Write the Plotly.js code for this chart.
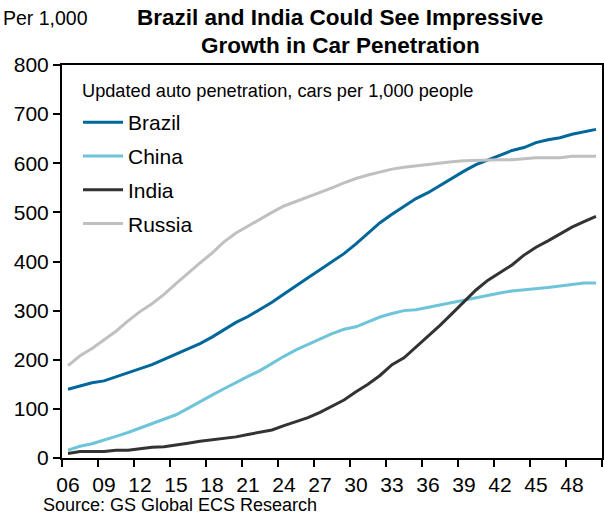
<!DOCTYPE html>
<html>
<head>
<meta charset="utf-8">
<script src="https://cdn.plot.ly/plotly-3.0.1.min.js"></script>
<style>
html,body{margin:0;padding:0;background:#fff;}
#chart{width:604px;height:516px;}
</style>
</head>
<body>
<div id="chart"></div>
<script>
// Categories: years 2006-2050 shown as two-digit labels
const years = ["06","07","08","09","10","11","12","13","14","15","16","17","18","19","20",
  "21","22","23","24","25","26","27","28","29","30","31","32","33","34","35",
  "36","37","38","39","40","41","42","43","44","45","46","47","48","49","50"];

const brazil = [140,147,153,157,165,174,182,190,201,212,223,233,246,261,276,
  288,302,317,334,351,367,383,399,416,436,458,479,496,512,528,
  540,555,570,584,597,607,617,626,632,642,648,652,659,664,669];

const china = [16,24,29,36,44,52,61,70,79,88,101,115,128,141,154,
  166,178,193,207,220,231,242,253,262,267,277,287,294,300,302,
  307,312,317,322,327,332,336,340,342,344,347,350,353,356,356];

const india = [9,13,13,13,16,16,19,22,23,26,30,34,37,40,43,
  48,53,57,66,74,82,93,106,118,135,150,168,190,204,226,
  248,270,294,317,342,362,378,393,413,429,442,456,470,481,492];

const russia = [188,208,223,240,258,279,298,314,333,355,377,397,417,440,458,
  472,487,500,513,522,531,540,550,560,569,576,582,588,592,595,
  598,601,603,605,606,607,607,607,609,611,611,611,614,614,614];

const seriesNames = ["Brazil","China","India","Russia"];
const seriesData = [brazil, china, india, russia];
const seriesColors = ["#00679A","#6EC4D8","#333333","#C0C0C0"];

const titleLines = ["Brazil and India Could See Impressive", "Growth in Car Penetration"];
const unitLabel = "Per 1,000";
const legendHeading = "Updated auto penetration, cars per 1,000 people";
const sourceText = "Source: GS Global ECS Research";

const FONT = "Liberation Sans, Arial, sans-serif";

// plot area in pixels: left 62, right 602, top 65, bottom 458
const PL = 62, PW = 540, PB = 458, PH = 393;
const px = v => (v - PL) / PW;
const py = v => (PB - v) / PH;

const traces = seriesNames.map((name, i) => ({
  type: "scatter",
  mode: "lines",
  name: name,
  legendgroup: name,
  x: years,
  y: seriesData[i],
  line: {color: seriesColors[i], width: 3},
  hoverinfo: "x+y+name"
}));

const layout = {
  width: 604,
  height: 516,
  margin: {l: PL, r: 2, t: 65, b: 58},
  paper_bgcolor: "#ffffff",
  plot_bgcolor: "#ffffff",
  font: {family: FONT, color: "#000000", size: 18},
  xaxis: {
    type: "category",
    categoryorder: "array",
    categoryarray: years,
    range: [-0.5, years.length - 0.5],
    tickmode: "linear",
    tick0: 0,
    dtick: 3,
    tickson: "boundaries",
    tickangle: 0,
    ticks: "outside",
    ticklen: 7,
    tickwidth: 2,
    tickcolor: "#000",
    ticklabelstandoff: 7,
    showline: true,
    linewidth: 2,
    linecolor: "#000",
    mirror: true,
    showgrid: false,
    zeroline: false,
    tickfont: {family: FONT, size: 21, color: "#000"},
    fixedrange: true
  },
  yaxis: {
    range: [0, 800],
    tickmode: "linear",
    tick0: 0,
    dtick: 100,
    ticks: "outside",
    ticklen: 7,
    tickwidth: 2,
    tickcolor: "#000",
    showline: true,
    linewidth: 2,
    linecolor: "#000",
    mirror: true,
    showgrid: false,
    zeroline: false,
    tickfont: {family: FONT, size: 21, color: "#000"},
    fixedrange: true
  },
  showlegend: true,
  legend: {
    x: px(78),
    xanchor: "left",
    y: py(102),
    yanchor: "top",
    bgcolor: "rgba(0,0,0,0)",
    borderwidth: 0,
    font: {family: FONT, size: 21, color: "#000"},
    tracegroupgap: 3.5,
    itemwidth: 40
  },
  annotations: [
    {
      text: "<b>" + titleLines[0] + "</b>",
      xref: "paper", yref: "paper",
      x: px(340), y: py(18),
      xanchor: "center", yanchor: "middle",
      showarrow: false,
      font: {family: FONT, size: 22.5, color: "#000"}
    },
    {
      text: "<b>" + titleLines[1] + "</b>",
      xref: "paper", yref: "paper",
      x: px(340), y: py(45),
      xanchor: "center", yanchor: "middle",
      showarrow: false,
      font: {family: FONT, size: 22.5, color: "#000"}
    },
    {
      text: unitLabel,
      xref: "paper", yref: "paper",
      x: px(1), y: py(18),
      xanchor: "left", yanchor: "middle",
      showarrow: false,
      font: {family: FONT, size: 19.5, color: "#000"}
    },
    {
      text: legendHeading,
      xref: "paper", yref: "paper",
      x: px(80), y: py(91),
      xanchor: "left", yanchor: "middle",
      showarrow: false,
      font: {family: FONT, size: 18.2, color: "#000"}
    },
    {
      text: sourceText,
      xref: "paper", yref: "paper",
      x: px(41), y: py(505),
      xanchor: "left", yanchor: "middle",
      showarrow: false,
      font: {family: FONT, size: 18, color: "#000"}
    }
  ]
};

Plotly.newPlot("chart", traces, layout, {displayModeBar: false, staticPlot: true});
</script>
</body>
</html>
